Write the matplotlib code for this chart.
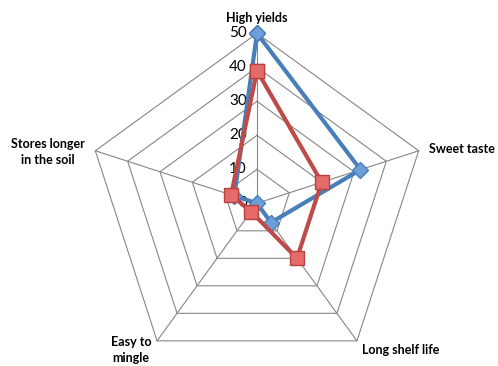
import numpy as np
import matplotlib
matplotlib.use("Agg")
import matplotlib.pyplot as plt
from matplotlib.transforms import offset_copy

# categories (clockwise from top) and the two series
categories = ['High yields', 'Sweet taste', 'Long shelf life', 'Easy to\nmingle', 'Stores longer\nin the soil']
series1 = [50, 32, 7, 0, 7]
series2 = [39, 20, 20, 3, 8]
ticks = [0, 10, 20, 30, 40, 50]

plt.rcParams['font.family'] = ['Lato', 'DejaVu Sans']

W, H = 498, 366
fig = plt.figure(figsize=(W / 100, H / 100), dpi=100)
# centre of the web at (257, 203) px, outer ring radius 170 px
cx, cy, R = 257, 203.3, 170
ax = fig.add_axes([(cx - R) / W, 1 - (cy + R) / H, 2 * R / W, 2 * R / H], projection='polar')
ax.set_theta_offset(np.pi / 2)
ax.set_theta_direction(-1)
ax.set_ylim(0, ticks[-1])
ax.axis('off')

angles = np.linspace(0, 2 * np.pi, len(categories), endpoint=False)
closed = np.append(angles, angles[0])

# pentagon grid
for t in ticks[1:]:
    ax.plot(closed, [t] * len(closed), color='#868686', lw=0.8, zorder=1, clip_on=False)
for a in angles:
    ax.plot([a, a], [0, ticks[-1]], color='#868686', lw=0.8, zorder=1, clip_on=False)

# tick labels on the vertical axis
tr = offset_copy(ax.transData, fig=fig, x=-10, y=0, units='dots')
for t in ticks:
    ax.text(0, t, str(t), transform=tr, ha='right', va='center', fontsize=11, color='#000000')

s1 = np.append(series1, series1[0])
s2 = np.append(series2, series2[0])
ax.plot(closed, s1, color='#4A7EBB', lw=3, marker='D', ms=8,
        mfc='#6C9ED9', mec='#4A7EBB', mew=1, zorder=3, clip_on=False)
ax.plot(closed, s2, color='#BE4B48', lw=3, marker='s', ms=10,
        mfc='#E46B69', mec='#B8423F', mew=1, zorder=4, clip_on=False)

# category labels
label_pos = [(257, 18, 'center'), (429, 149, 'left'), (362, 350, 'left'),
             (131, 350, 'center'), (48, 152, 'center')]
for name, (x, y, ha) in zip(categories, label_pos):
    fig.text(x / W, 1 - y / H, name, ha=ha, va='center', fontsize=9,
             fontweight='bold', linespacing=1.5, multialignment='center')

fig.savefig('out.png', dpi=100)
